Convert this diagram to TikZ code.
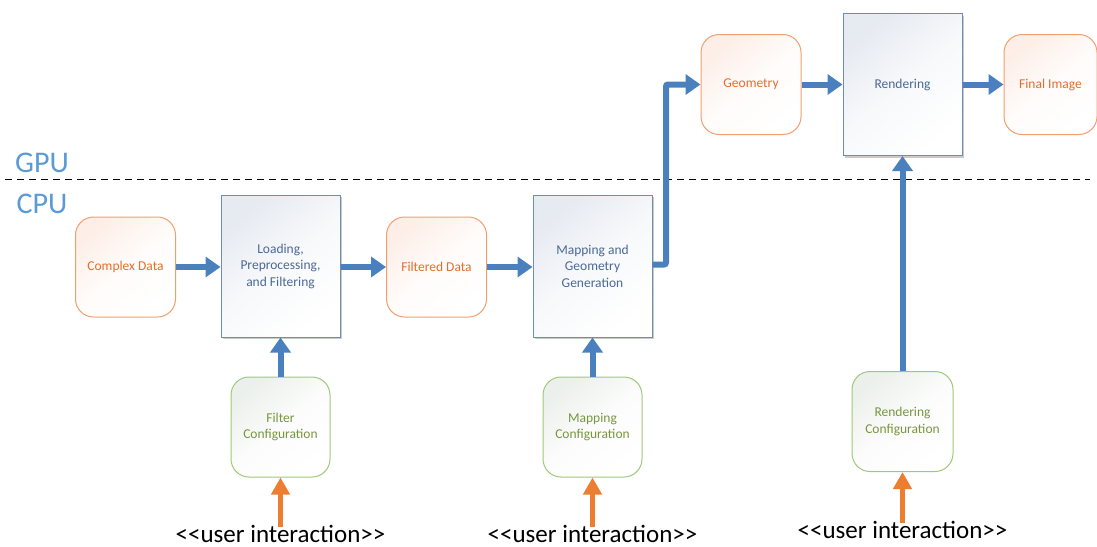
\documentclass[tikz,border=0pt]{standalone}
\usepackage{fontspec}
\setmainfont{Carlito}
\usetikzlibrary{arrows.meta,shadows}

\definecolor{flowblue}{RGB}{74,128,190}
\definecolor{userorange}{RGB}{237,125,49}
\definecolor{labelblue}{RGB}{91,155,213}
\definecolor{procedge}{RGB}{110,140,180}
\definecolor{proctext}{RGB}{75,105,150}
\definecolor{procfill}{RGB}{230,234,241}
\definecolor{dataedge}{RGB}{240,160,110}
\definecolor{datatext}{RGB}{228,110,45}
\definecolor{datafill}{RGB}{253,238,231}
\definecolor{cfgedge}{RGB}{160,200,120}
\definecolor{cfgtext}{RGB}{120,150,65}
\definecolor{cfgfill}{RGB}{236,240,236}

\tikzset{
  procbox/.style={draw=procedge, line width=1pt, minimum width=119pt, minimum height=142pt,
    top color=procfill, bottom color=white, middle color=procfill!30, shading angle=40,
    text=proctext, font=\fontsize{13.5}{16.5}\selectfont, align=center, inner sep=0pt,
    drop shadow={shadow xshift=2pt, shadow yshift=-2pt, opacity=0.35, fill=black!60}},
  databox/.style={draw=dataedge, line width=1pt, rounded corners=18pt, minimum width=100pt,
    minimum height=100pt, top color=datafill, bottom color=white, middle color=datafill!20,
    shading angle=40,
    text=datatext, font=\fontsize{13.5}{16.5}\selectfont, align=center, inner sep=0pt},
  cfgbox/.style={draw=cfgedge, line width=1pt, rounded corners=18pt, minimum width=99pt,
    minimum height=100pt, top color=cfgfill, bottom color=white, middle color=cfgfill!20,
    shading angle=40,
    text=cfgtext, font=\fontsize{13.5}{16.5}\selectfont, align=center, inner sep=0pt},
  flow/.style={draw=flowblue, line width=6pt, -{Triangle[width=20pt,length=15pt]}},
  userflow/.style={draw=userorange, line width=5.5pt, -{Triangle[width=18pt,length=17pt]}},
  usertext/.style={font=\fontsize{25}{25}\selectfont, text=black, inner sep=0pt, anchor=base},
  layertext/.style={font=\fontsize{30}{30}\selectfont, text=labelblue, inner sep=0pt, anchor=base}
}

\begin{document}
\begin{tikzpicture}[x=1pt,y=-1pt]
  \useasboundingbox (0,0) rectangle (1097,546);
  \clip (0,0) rectangle (1097,546);

  % GPU / CPU boundary
  \draw[black, line width=1pt, dash pattern=on 7pt off 5pt] (5,179.5) -- (1090,179.5);
  \node[layertext] (gpu) at (42,172) {GPU};
  \node[layertext] (cpu) at (42,213) {CPU};

  % CPU side pipeline
  \node[databox] (complex) at (125.5,267) {Complex Data};
  \node[procbox] (load) at (280.5,266) {Loading,\\Preprocessing,\\and Filtering};
  \node[databox] (filtered) at (436.5,267) {Filtered Data};
  \node[procbox] (mapgen) at (592.5,266) {Mapping and\\Geometry\\Generation};

  % GPU side pipeline
  \node[databox] (geometry) at (751,84.5) {Geometry};
  \node[procbox] (render) at (902.5,84.5) {Rendering};
  \node[databox, minimum width=93pt] (final) at (1050.5,84.5) {Final Image};

  % configuration inputs
  \node[cfgbox] (filtercfg) at (280.5,427) {Filter\\Configuration};
  \node[cfgbox] (mapcfg) at (592.5,427) {Mapping\\Configuration};
  \node[cfgbox, minimum width=101pt] (rendercfg) at (902.5,421.5) {Rendering\\Configuration};

  % user interaction labels
  \node[usertext] (ui1) at (280.5,542.5) {<{}<user interaction>{}>};
  \node[usertext] (ui2) at (592.5,542.5) {<{}<user interaction>{}>};
  \node[usertext] (ui3) at (902.5,538) {<{}<user interaction>{}>};

  % data flow
  \draw[flow] (complex.east) -- (load.west |- complex.east);
  \draw[flow] (load.east |- filtered.west) -- (filtered.west);
  \draw[flow] (filtered.east) -- (mapgen.west |- filtered.east);
  \coordinate (bendlow) at (666,264.5);
  \coordinate (bendhigh) at (666,84.5);
  \draw[flow, rounded corners=2pt] (mapgen.east |- bendlow) -- (bendlow) -- (bendhigh) -- (geometry.west);
  \draw[flow] (geometry.east) -- (render.west);
  \draw[flow] (render.east) -- (final.west);

  % configuration flow
  \draw[flow] (filtercfg.north) -- (load.south);
  \draw[flow] (mapcfg.north) -- (mapgen.south);
  \draw[flow] (rendercfg.north) -- (render.south);

  % user input
  \draw[userflow] ([yshift=-2pt]ui1.north) -- (filtercfg.south);
  \draw[userflow] ([yshift=-2pt]ui2.north) -- (mapcfg.south);
  \draw[userflow] ([yshift=-2pt]ui3.north) -- (rendercfg.south);
\end{tikzpicture}
\end{document}
